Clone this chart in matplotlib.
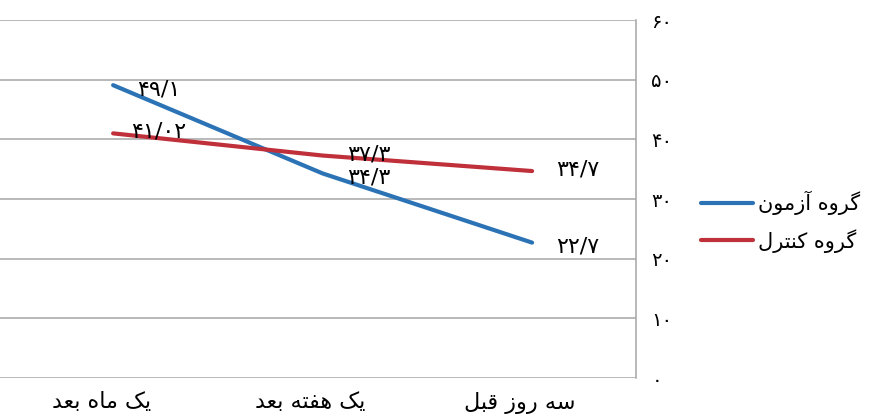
import numpy as np
import matplotlib.pyplot as plt
from matplotlib.transforms import ScaledTranslation

# داده ها (ترتیب منطقی، از راست به چپ در نمودار)
categories = ['سه روز قبل', 'یک هفته بعد', 'یک ماه بعد']
azmoon = [22.7, 34.3, 49.1]
control = [34.7, 37.3, 41.02]
series_names = ['گروه آزمون', 'گروه کنترل']
yticks = [0, 10, 20, 30, 40, 50, 60]

# شکل حروف: (تنها، پایانی، آغازی، میانی)
FORMS = {
    'ا': (0xFE8D, 0xFE8E), 'آ': (0xFE81, 0xFE82), 'د': (0xFEA9, 0xFEAA),
    'ر': (0xFEAD, 0xFEAE), 'ز': (0xFEAF, 0xFEB0), 'و': (0xFEED, 0xFEEE),
    'ب': (0xFE8F, 0xFE90, 0xFE91, 0xFE92), 'ت': (0xFE95, 0xFE96, 0xFE97, 0xFE98),
    'س': (0xFEB1, 0xFEB2, 0xFEB3, 0xFEB4), 'ع': (0xFEC9, 0xFECA, 0xFECB, 0xFECC),
    'ف': (0xFED1, 0xFED2, 0xFED3, 0xFED4), 'ق': (0xFED5, 0xFED6, 0xFED7, 0xFED8),
    'ل': (0xFEDD, 0xFEDE, 0xFEDF, 0xFEE0), 'م': (0xFEE1, 0xFEE2, 0xFEE3, 0xFEE4),
    'ن': (0xFEE5, 0xFEE6, 0xFEE7, 0xFEE8), 'ه': (0xFEE9, 0xFEEA, 0xFEEB, 0xFEEC),
    'ک': (0xFB8E, 0xFB8F, 0xFB90, 0xFB91), 'گ': (0xFB92, 0xFB93, 0xFB94, 0xFB95),
    'ی': (0xFBFC, 0xFBFD, 0xFBFE, 0xFBFF),
}


def fa(text):
    # شکل دادن ساده حروف فارسی و برگرداندن ترتیب برای نمایش
    out = []
    for i, ch in enumerate(text):
        if ch not in FORMS:
            out.append(ch)
            continue
        prev = text[i - 1] if i > 0 else ''
        nxt = text[i + 1] if i + 1 < len(text) else ''
        jp = prev in FORMS and len(FORMS[prev]) == 4
        jn = len(FORMS[ch]) == 4 and nxt in FORMS
        f = FORMS[ch]
        if jp and jn:
            c = f[3]
        elif jp:
            c = f[1]
        elif jn:
            c = f[2]
        else:
            c = f[0]
        out.append(chr(c))
    return ''.join(out[::-1])


def fa_num(v):
    return str(v).replace('.', '/').translate(str.maketrans('0123456789', '۰۱۲۳۴۵۶۷۸۹'))


plt.rcParams['font.family'] = ['DejaVu Sans']
fig = plt.figure(figsize=(8.73, 4.2), dpi=100)
ax = fig.add_axes([0.0, 0.1, 0.7285, 0.852])

x = np.arange(len(categories))
blue = '#2c73b6'
red = '#c0303a'
ax.plot(x, azmoon, color=blue, lw=3, label=fa(series_names[0]), solid_capstyle='round')
ax.plot(x, control, color=red, lw=3, label=fa(series_names[1]), solid_capstyle='round')

# برچسب مقادیر
for vals, dy in ((azmoon, -3), (control, 1)):
    for xi, v in zip(x, vals):
        ax.annotate(fa_num(v), (xi, v), xytext=(33, dy), textcoords='offset points',
                    ha='center', va='center', fontsize=16)

ax.set_xlim(2.54, -0.496)
ax.set_ylim(0, 60)
ax.set_xticks(x)
ax.set_xticklabels([fa(c) for c in categories], fontsize=16)
ax.set_yticks(yticks)
ax.set_yticklabels([fa_num(t) for t in yticks], fontsize=14)
ax.yaxis.tick_right()
ax.tick_params(axis='y', length=0, pad=11)
ax.tick_params(axis='x', length=0, pad=10)
shift = ScaledTranslation(-12 / 100, 0, fig.dpi_scale_trans)
for lab in ax.get_xticklabels():
    lab.set_transform(lab.get_transform() + shift)
ax.grid(axis='y', color='#a6a6a6', lw=1.1)
ax.set_axisbelow(True)
for s in ['top', 'left', 'bottom']:
    ax.spines[s].set_visible(False)
ax.spines['right'].set_color('#a6a6a6')
ax.spines['right'].set_linewidth(1.1)

ax.legend(loc='upper left', bbox_to_anchor=(1.072, 0.575), frameon=False, fontsize=15,
          handlelength=2.5, handletextpad=0.25, labelspacing=0.65)

fig.savefig('out.png', dpi=100)
